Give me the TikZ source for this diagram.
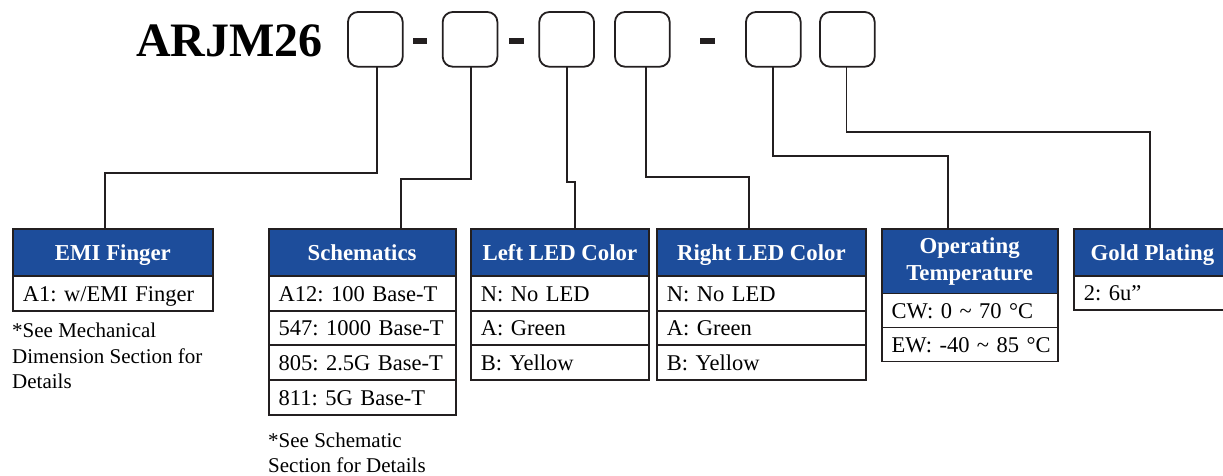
\documentclass[tikz,border=0pt]{standalone}
\usepackage{fontspec}
\setmainfont{Liberation Serif}
\frenchspacing
\definecolor{hblue}{RGB}{29,77,155}
\definecolor{bord}{RGB}{35,31,32}
\newcommand{\rowfont}{\fontsize{22.5}{27}\selectfont}
\newcommand{\notefont}{\fontsize{21}{25.5}\selectfont}
\newcommand{\hdrfont}{\fontsize{22.8}{27}\selectfont\bfseries}
\begin{document}
\begin{tikzpicture}[x=1pt,y=-1pt,
  codebox/.style={draw=bord, line width=1.8pt, rounded corners=10pt, minimum width=54.7pt, minimum height=54.7pt, inner sep=0pt, outer sep=0pt, anchor=north west},
  dashbar/.style={fill=bord, draw=none, minimum height=6.3pt, inner sep=0pt, outer sep=0pt, anchor=north west},
  hdr/.style={draw=bord, line width=1.8pt, fill=hblue, text=white, font=\hdrfont, align=center, inner sep=0pt, outer sep=0pt, anchor=north west, minimum width=#1},
  oneline/.style={text height=21pt, text depth=5pt},
  rowbox/.style={draw=bord, line width=1.8pt, fill=white, font=\rowfont, align=left, inner ysep=0pt, inner xsep=10pt, outer sep=0pt, anchor=north west, text width=#1-20pt, minimum height=34.7pt, text height=21pt, text depth=5pt,
    execute at begin node={\hbox\bgroup}, execute at end node={\egroup}},
  note/.style={font=\notefont, align=left, inner sep=0pt, anchor=north west},
  conn/.style={draw=bord, line width=1.8pt}
]
\useasboundingbox (0,0) rectangle (1223,475);
\clip (0,0) rectangle (1223,475);

% title and code boxes
\node[font=\fontsize{48}{50}\selectfont\bfseries, inner sep=0pt, anchor=base west] (title) at (136,56) {ARJM26};
\node[codebox] (c1) at (348,12) {};
\node[codebox] (c2) at (442.7,12) {};
\node[codebox] (c3) at (539.3,12) {};
\node[codebox] (c4) at (615,12) {};
\node[codebox] (c5) at (746,12) {};
\node[codebox] (c6) at (820,12) {};
\node[dashbar, minimum width=14pt] (d1) at (413,37.7) {};
\node[dashbar, minimum width=15pt] (d2) at (509,37.7) {};
\node[dashbar, minimum width=15pt] (d3) at (700,37.7) {};

% junction coordinates
\coordinate (j1) at (105,173);
\coordinate (j2) at (401,179.3);
\coordinate (j3) at (574.7,182);
\coordinate (j4) at (749,176.7);
\coordinate (j5) at (947.8,155.7);
\coordinate (j6) at (1150,131.7);

% headers
\node[hdr=200pt, oneline, minimum height=47pt] (emiH) at (12.9,228.9) {EMI Finger};
\node[hdr=187pt, oneline, minimum height=47pt] (schH) at (268.6,228.9) {Schematics};
\node[hdr=178pt, oneline, minimum height=47pt] (lefH) at (470.9,228.9) {Left LED Color};
\node[hdr=209pt, oneline, minimum height=47pt] (rigH) at (656.9,228.9) {Right LED Color};
\node[hdr=176pt, minimum height=64.6pt] (opH) at (881.6,228.9) {Operating\\Temperature};
\node[hdr=157pt, oneline, minimum height=47pt] (golH) at (1073.9,228.9) {Gold Plating};

% connectors
\draw[conn] ([xshift=1.7pt]c1.south) |- (j1) -- (j1 |- emiH.north);
\draw[conn] ([xshift=1pt]c2.south) |- (j2) -- (j2 |- schH.north);
\draw[conn] (c3.south) |- (j3) -- (j3 |- lefH.north);
\draw[conn] ([xshift=3.7pt]c4.south) |- (j4) -- (j4 |- rigH.north);
\draw[conn] (c5.south) |- (j5) -- (j5 |- opH.north);
\draw[conn] ([xshift=-0.8pt]c6.south) |- (j6) -- (j6 |- golH.north);

% rows
\node[rowbox=200pt] (emi1) at (emiH.south west) {A1: w/EMI Finger};

\node[rowbox=187pt] (sch1) at (schH.south west) {A12: 100 Base-T};
\node[rowbox=187pt] (sch2) at (sch1.south west) {547: 1000 Base-T};
\node[rowbox=187pt] (sch3) at (sch2.south west) {805: 2.5G Base-T};
\node[rowbox=187pt] (sch4) at (sch3.south west) {811: 5G Base-T};

\node[rowbox=178pt] (lef1) at (lefH.south west) {N: No LED};
\node[rowbox=178pt] (lef2) at (lef1.south west) {A: Green};
\node[rowbox=178pt] (lef3) at (lef2.south west) {B: Yellow};

\node[rowbox=209pt] (rig1) at (rigH.south west) {N: No LED};
\node[rowbox=209pt] (rig2) at (rig1.south west) {A: Green};
\node[rowbox=209pt] (rig3) at (rig2.south west) {B: Yellow};

\node[rowbox=176pt, minimum height=34pt] (op1) at (opH.south west) {CW: 0 \textasciitilde{} 70 °C};
\node[rowbox=176pt, minimum height=34pt] (op2) at (op1.south west) {EW: -40 \textasciitilde{} 85 °C};

\node[rowbox=157pt, minimum height=34pt] (gol1) at (golH.south west) {2: 6u”};

% notes
\node[note] (n1) at (12,323) {*See Mechanical\\Dimension Section for\\Details};
\node[note] (n2) at (268,432.5) {*See Schematic\\Section for Details};
\end{tikzpicture}
\end{document}
